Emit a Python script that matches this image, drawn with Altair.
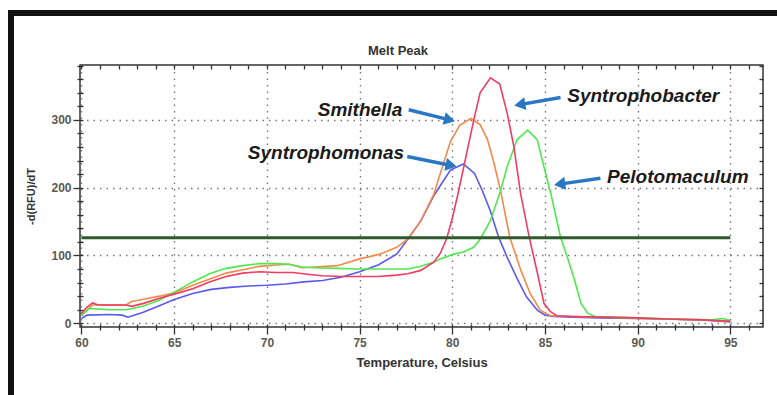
import math
import altair as alt
import pandas as pd

# ---------------- data ----------------
series_names = ["Syntrophomonas", "Smithella", "Pelotomaculum", "Syntrophobacter"]
series_colors = ["#5a5af0", "#f5894a", "#4fe84f", "#f03c62"]

blue_t = [60.0, 60.3, 61.5, 62.2, 62.5, 63.3, 64.2, 65.0, 66.0, 67.0, 68.0, 69.0, 70.0, 71.0,
          72.0, 73.0, 74.0, 75.0, 76.0, 77.0, 77.6, 78.3, 79.0, 79.4, 79.9, 80.6, 81.2, 81.6,
          82.05, 82.5, 82.95, 83.5, 84.0, 84.6, 85.0, 85.5, 86.5, 88.0, 90.0, 92.0, 93.5, 95.0]
blue_v = [7, 12, 13, 12, 9, 16, 26, 35, 44, 50, 53, 55, 56, 58,
          61, 63, 68, 76, 86, 102, 124, 151, 188, 205, 226, 235, 221, 197,
          166, 127, 98, 66, 39, 19, 12, 10, 9, 8, 7, 6, 5, 2]

orange_t = [60.0, 60.4, 60.6, 62.4, 62.7, 63.3, 64.2, 65.0, 66.0, 67.0, 67.8, 68.7, 69.6, 70.5,
            71.2, 71.9, 72.6, 73.8, 75.0, 76.1, 77.0, 77.6, 78.3, 79.0, 79.4, 79.9, 80.4, 81.0,
            81.5, 81.9, 82.25, 82.6, 83.1, 83.7, 84.2, 84.75, 85.3, 86.5, 88.0, 90.0, 92.0, 93.5, 95.0]
orange_v = [11, 22, 27, 27, 32, 35, 40, 45, 56, 66, 74, 79, 84, 86,
            87, 82, 83, 85, 95, 102, 112, 124, 151, 190, 225, 268, 292, 302,
            293, 271, 236, 196, 127, 78, 44, 19, 11, 10, 9, 7, 6, 5, 3]

red_t = [60.0, 60.3, 60.6, 60.9, 62.4, 62.7, 63.3, 64.2, 65.0, 66.0, 66.9, 67.8, 68.7, 69.6,
         70.5, 71.4, 72.3, 73.0, 74.0, 75.0, 76.0, 77.0, 77.6, 78.3, 79.0, 79.35, 79.7, 80.0,
         80.3, 80.7, 81.16, 81.5, 82.06, 82.56, 82.96, 83.32, 83.68, 84.15, 84.6, 84.95, 85.3,
         85.65, 86.5, 88.0, 90.0, 92.0, 93.5, 95.0]
red_v = [15, 24, 30, 27, 27, 25, 29, 37, 43, 51, 61, 69, 74, 76,
         75, 75, 72, 70, 69, 69, 69, 71, 73, 78, 90, 103, 125, 155,
         190, 241, 300, 340, 362, 353, 310, 261, 192, 127, 73, 29, 17,
         11, 10, 9, 8, 6, 5, 3]

green_t = [60.0, 60.4, 61.5, 62.4, 63.3, 64.2, 65.0, 66.0, 66.9, 67.8, 68.7, 69.6, 70.5, 71.2,
           71.9, 72.6, 73.8, 75.0, 76.1, 77.0, 77.6, 78.3, 79.0, 79.35, 80.07, 80.6, 81.15, 81.5,
           82.05, 82.6, 82.96, 83.5, 84.07, 84.58, 84.94, 85.3, 85.84, 86.2, 86.6, 86.95, 87.3,
           87.7, 88.5, 90.0, 92.0, 94.0, 94.6, 95.0]
green_v = [12, 22, 20, 20, 25, 34, 46, 61, 73, 81, 85, 88, 88, 87,
           83, 82, 81, 80, 80, 80, 80, 84, 90, 95, 102, 105, 112, 124,
           151, 195, 231, 271, 285, 271, 231, 193, 127, 98, 63, 29, 15,
           10, 9, 8, 6, 5, 7, 4]

threshold_value = 126
threshold_range = [60, 95]

chart_title = "Melt Peak"
label_names = ["Smithella", "Syntrophomonas", "Syntrophobacter", "Pelotomaculum"]
label_t = [77.3, 77.4, 86.2, 88.35]
label_v = [315, 251, 335, 216.5]
label_side = ["right", "right", "left", "left"]
arrow_t0 = [77.65, 77.57, 85.84, 87.99]
arrow_v0 = [315, 246, 333, 214]
arrow_t1 = [80.17, 80.26, 83.32, 85.47]
arrow_v1 = [298, 231, 321, 204]

x_ticks = list(range(60, 97))
y_ticks = list(range(0, 381, 20))

# ---------------- layout ----------------
X_DOMAIN = [59.92, 96.76]
Y_DOMAIN = [-5.5, 381]
W, H = 683, 262
FONT = "Liberation Sans"

rows = []
for name, ts, vs in zip(series_names, [blue_t, orange_t, green_t, red_t],
                        [blue_v, orange_v, green_v, red_v]):
    for i, (t, v) in enumerate(zip(ts, vs)):
        rows.append({"series": name, "temp": t, "rfu": v, "i": i})
df = pd.DataFrame(rows)

x_scale = alt.Scale(domain=X_DOMAIN, nice=False, zero=False)
y_scale = alt.Scale(domain=Y_DOMAIN, nice=False, zero=False)

common = dict(tickCount=200, labelOverlap=False, format="d", domain=False,
              tickColor="#333", tickWidth=1.3,
              labelFont=FONT, labelFontSize=12, labelFontWeight="bold",
              labelColor="#5a5a52", titleFont=FONT, titleFontWeight="bold",
              titleColor="#333", gridDash=[1.5, 5], gridColor="#777", gridWidth=1.4)

x_axis = alt.Axis(
    values=x_ticks, orient="bottom", offset=-3,
    labelExpr="datum.value % 5 === 0 ? datum.label : ''",
    grid=True,
    gridOpacity={"condition": {"test": "datum.value % 5 === 0", "value": 1}, "value": 0},
    tickSize={"condition": {"test": "datum.value % 5 === 0", "value": 10}, "value": 6},
    labelPadding=3,
    title="Temperature, Celsius", titleFontSize=13, titlePadding=8, **common,
)
y_axis = alt.Axis(
    values=y_ticks, orient="left", offset=-3,
    labelExpr="datum.value % 100 === 0 ? datum.label : ''",
    grid=True,
    gridOpacity={"condition": {"test": "datum.value % 100 === 0", "value": 1}, "value": 0},
    tickSize={"condition": {"test": "datum.value % 100 === 0", "value": 10}, "value": 6},
    labelPadding=2,
    title="-d(RFU)/dT", titleFontSize=11, titlePadding=14, **common,
)
x_axis_top = alt.Axis(values=x_ticks, orient="top", offset=-4, tickSize=4, labels=False,
                      grid=False, title=None, **common)
y_axis_right = alt.Axis(values=y_ticks, orient="right", offset=-4, tickSize=4, labels=False,
                        grid=False, title=None, **common)

lines = alt.Chart(df).mark_line(strokeWidth=1.6).encode(
    x=alt.X("temp:Q", scale=x_scale, axis=x_axis),
    y=alt.Y("rfu:Q", scale=y_scale, axis=y_axis),
    color=alt.Color("series:N", scale=alt.Scale(domain=series_names, range=series_colors),
                    legend=None),
    order="i:Q",
)

thr_df = pd.DataFrame({"t0": [threshold_range[0]], "t1": [threshold_range[1]],
                       "v": [threshold_value]})
threshold = alt.Chart(thr_df).mark_rule(color="#2e5a2e", strokeWidth=3).encode(
    x=alt.X("t0:Q", scale=x_scale, axis=x_axis_top), x2="t1:Q",
    y=alt.Y("v:Q", scale=y_scale, axis=y_axis_right))

# annotation arrows (head placed back from the tip along the arrow direction)
sx = W / (X_DOMAIN[1] - X_DOMAIN[0])
sy = H / (Y_DOMAIN[1] - Y_DOMAIN[0])
arr_rows = []
for t0, v0, t1, v1 in zip(arrow_t0, arrow_v0, arrow_t1, arrow_v1):
    dx = (t1 - t0) * sx
    dy = -(v1 - v0) * sy
    ln = math.hypot(dx, dy)
    ux, uy = dx / ln, dy / ln
    ang = math.degrees(math.atan2(ux, -uy)) % 360
    back = 6.0
    hc_t = t1 - back * ux / sx
    hc_v = v1 + back * uy / sy
    arr_rows.append({"t0": t0, "v0": v0, "t1": hc_t, "v1": hc_v, "angle": ang})
arr_df = pd.DataFrame(arr_rows)
ARROW = "#2a78c4"
X_NA = dict(scale=x_scale, axis=None)
Y_NA = dict(scale=y_scale, axis=None)
shafts = alt.Chart(arr_df).mark_rule(color=ARROW, strokeWidth=3.5).encode(
    x=alt.X("t0:Q", **X_NA), y=alt.Y("v0:Q", **Y_NA), x2="t1:Q", y2="v1:Q")
heads = alt.Chart(arr_df).mark_point(shape="triangle-up", filled=True, size=170,
                                     color=ARROW, opacity=1).encode(
    x=alt.X("t1:Q", **X_NA), y=alt.Y("v1:Q", **Y_NA),
    angle=alt.Angle("angle:Q", scale=None))

lab_df = pd.DataFrame({"name": label_names, "t": label_t, "v": label_v, "side": label_side})
text_kw = dict(font=FONT, fontSize=19, fontWeight="bold", fontStyle="italic",
               color="#1a1a1a", baseline="middle")
labels_r = alt.Chart(lab_df).transform_filter("datum.side == 'right'").mark_text(
    align="right", **text_kw).encode(x=alt.X("t:Q", **X_NA), y=alt.Y("v:Q", **Y_NA),
                                     text="name:N")
labels_l = alt.Chart(lab_df).transform_filter("datum.side == 'left'").mark_text(
    align="left", **text_kw).encode(x=alt.X("t:Q", **X_NA), y=alt.Y("v:Q", **Y_NA),
                                    text="name:N")

# title drawn as text above the plot; decorative black frame of the screenshot
frame_src = pd.DataFrame({"k": [0]})
title_mark = alt.Chart(frame_src).mark_text(
    font=FONT, fontSize=13, fontWeight="bold", color="#333", align="center",
    baseline="middle", clip=False, text=chart_title).encode(
    x=alt.value(318), y=alt.value(-14))
frame_top = alt.Chart(frame_src).mark_rule(color="#111", strokeWidth=6, clip=False).encode(
    x=alt.value(-72), x2=alt.value(700), y=alt.value(-52))
frame_left = alt.Chart(frame_src).mark_rule(color="#111", strokeWidth=6, clip=False).encode(
    x=alt.value(-69), y=alt.value(-55), y2=alt.value(340))

chart = alt.layer(
    lines, threshold, shafts, heads, labels_r, labels_l, title_mark, frame_top, frame_left
).resolve_axis(x="independent", y="independent").properties(
    width=W, height=H,
    autosize=alt.AutoSizeParams(type="none"),
    padding={"left": 80, "top": 65, "right": 14, "bottom": 68},
    background="white",
).configure_view(stroke="#333", strokeWidth=1.5)

chart.save("out.html", embed_options={"renderer": "svg", "actions": False})
